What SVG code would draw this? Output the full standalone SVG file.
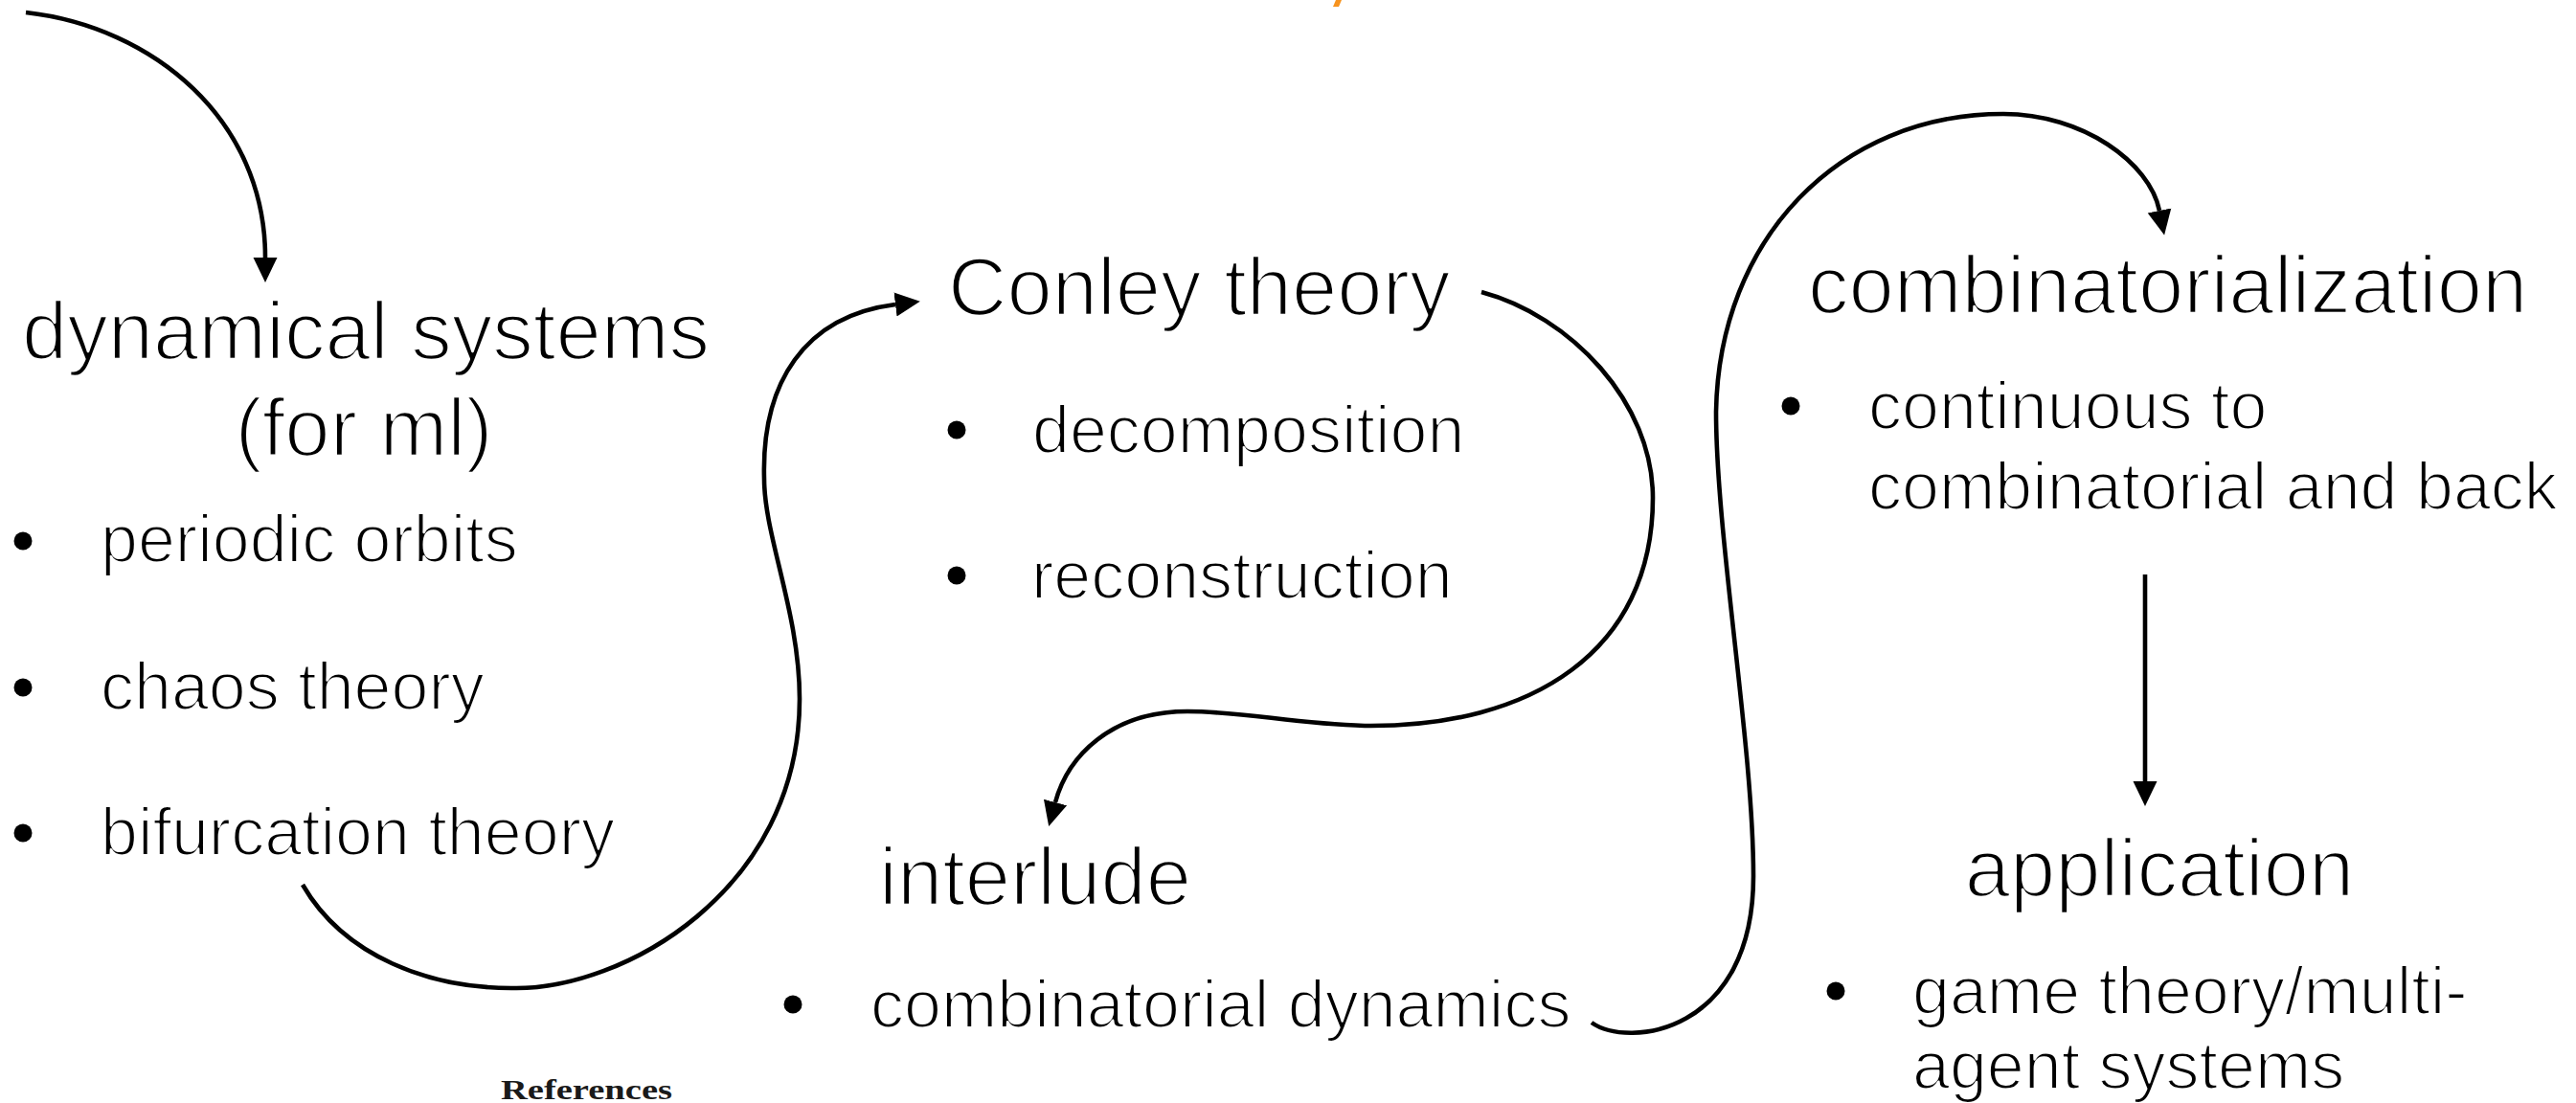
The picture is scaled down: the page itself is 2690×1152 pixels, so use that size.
<svg xmlns="http://www.w3.org/2000/svg" width="2690" height="1152" viewBox="0 0 2690 1152">
  <defs>
    <style>
      .title { font-family: "Liberation Sans", Arial, Helvetica, sans-serif; font-size: 85px; fill: #000; stroke: #fff; stroke-width: 2.6px; stroke-linejoin: round; }
      .item { font-family: "Liberation Sans", Arial, Helvetica, sans-serif; font-size: 70px; fill: #000; stroke: #fff; stroke-width: 2.2px; stroke-linejoin: round; }
      .bullet { fill: #000; }
      .link { fill: none; stroke: #000; stroke-width: 4.6; stroke-linecap: butt; }
      .refs { font-family: "Liberation Serif", "Times New Roman", serif; font-weight: bold; font-size: 30px; fill: #1a1a1a; }
    </style>
    <marker id="head" markerUnits="userSpaceOnUse" markerWidth="30" markerHeight="30" viewBox="0 -15 30 30" refX="0" refY="0" orient="auto">
      <path d="M0,-12.5 L26,0 L0,12.5 Z" fill="#000"/>
    </marker>
  </defs>

  <rect width="2690" height="1152" fill="#fff"/>

  <!-- clipped orange stroke at the top edge -->
  <polygon points="1395,0 1401,0 1398,7 1392,7" fill="#f7931e"/>

  <!-- connectors -->
  <g id="connectors">
    <path class="link" marker-end="url(#head)" d="M27,13 C160,28 277,125 277,269"/>
    <path class="link" marker-end="url(#head)" d="M316,924 C360,1000 450,1032 534,1032 C650,1035 835,930 835,730 C835,640 798,560 798,500 C795,400 840,330 935,318"/>
    <path class="link" marker-end="url(#head)" d="M1547,305 C1640,330 1726,420 1726,520 C1726,680 1600,760 1425,758 C1350,756 1300,743 1240,743 C1160,743 1115,790 1102,838"/>
    <path class="link" marker-end="url(#head)" d="M1662,1068 C1700,1095 1831,1080 1831,915 C1831,780 1792,560 1792,430 C1795,250 1920,119 2092,119 C2175,119 2245,170 2255,220"/>
    <path class="link" marker-end="url(#head)" d="M2240,600 L2240,816"/>
  </g>

  <!-- dynamical systems -->
  <g id="node-dynamical-systems">
    <text class="title" x="382" y="375" text-anchor="middle">dynamical systems</text>
    <text class="title" x="380" y="476" text-anchor="middle">(for ml)</text>
    <circle class="bullet" cx="24" cy="565" r="9.5"/>
    <text class="item" x="105" y="587">periodic orbits</text>
    <circle class="bullet" cx="24" cy="718" r="9.5"/>
    <text class="item" x="105" y="741">chaos theory</text>
    <circle class="bullet" cx="24" cy="870" r="9.5"/>
    <text class="item" x="105" y="893">bifurcation theory</text>
  </g>

  <!-- Conley theory -->
  <g id="node-conley-theory">
    <text class="title" x="990" y="329">Conley theory</text>
    <circle class="bullet" cx="999" cy="449" r="9.5"/>
    <text class="item" x="1078" y="473">decomposition</text>
    <circle class="bullet" cx="999" cy="601" r="9.5"/>
    <text class="item" x="1077" y="625">reconstruction</text>
  </g>

  <!-- interlude -->
  <g id="node-interlude">
    <text class="title" x="918" y="945">interlude</text>
    <circle class="bullet" cx="828" cy="1049" r="9.5"/>
    <text class="item" x="909" y="1073">combinatorial dynamics</text>
  </g>

  <!-- combinatorialization -->
  <g id="node-combinatorialization">
    <text class="title" x="1888" y="327">combinatorialization</text>
    <circle class="bullet" cx="1870" cy="424" r="9.5"/>
    <text class="item" x="1951" y="448">continuous to</text>
    <text class="item" x="1951" y="532">combinatorial and back</text>
  </g>

  <!-- application -->
  <g id="node-application">
    <text class="title" x="2255" y="936" text-anchor="middle">application</text>
    <circle class="bullet" cx="1917" cy="1035" r="9.5"/>
    <text class="item" x="1997" y="1059">game theory/multi-</text>
    <text class="item" x="1997" y="1137">agent systems</text>
  </g>

  <text class="refs" x="523" y="1148" textLength="179" lengthAdjust="spacingAndGlyphs">References</text>
</svg>
